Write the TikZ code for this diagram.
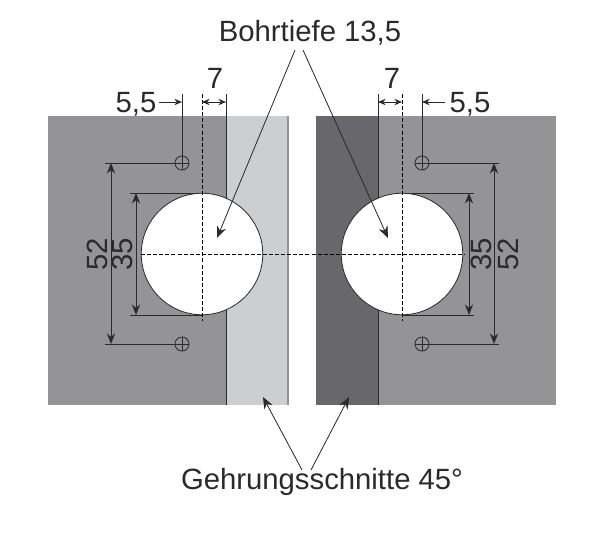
\documentclass[tikz,border=0pt]{standalone}
\usepackage{fontspec}
\setmainfont{Liberation Sans}
\usetikzlibrary{arrows.meta}
\definecolor{panelgray}{HTML}{949497}
\definecolor{panellight}{HTML}{CDCED0}
\definecolor{paneldark}{HTML}{68686C}
\definecolor{inkgray}{HTML}{2A2A2C}
\tikzset{
  dimline/.style={draw=inkgray, line width=0.8pt, {Stealth[length=9pt,width=7pt]}-{Stealth[length=9pt,width=7pt]}},
  leader/.style={draw=inkgray, line width=0.7pt, -{Stealth[length=10pt,width=8pt]}},
  smalldim/.style={draw=inkgray, line width=0.8pt, {Stealth[length=6.5pt,width=5.5pt]}-{Stealth[length=6.5pt,width=5.5pt]}},
  pointer/.style={draw=inkgray, line width=0.8pt, -{Stealth[length=6.5pt,width=5.5pt]}},
  extline/.style={draw=inkgray, line width=0.8pt},
  centerline/.style={draw=black, line width=0.6pt, dash pattern=on 3.4pt off 1.8pt},
  screwhole/.style={circle, draw=inkgray, line width=0.7pt, minimum size=12pt, inner sep=0pt},
  dimlabel/.style={text=inkgray, font=\fontsize{25}{30}\selectfont, inner sep=0pt},
}
\begin{document}
\begin{tikzpicture}[x=0.03cm, y=-0.03cm]
\useasboundingbox (0, 0) rectangle (600, 534);

% panels
\fill[panelgray] (48, 116) rectangle (226, 405);
\fill[panellight] (226, 116) rectangle (288, 405);
\fill[paneldark] (316, 116) rectangle (378, 405);
\fill[panelgray] (378, 116) rectangle (556, 405);
\draw[panelgray, line width=1pt] (288, 116) -- (288, 405);
\draw[extline] (226, 94) -- (226, 405);
\draw[extline] (378, 94) -- (378, 405);

% witness lines of the 35 and 52 measures
\coordinate (ltopA) at (130, 193);
\coordinate (lbotA) at (130, 315);
\coordinate (rtopA) at (474, 193);
\coordinate (rbotA) at (474, 315);
\coordinate (ltopB) at (105, 163);
\coordinate (lbotB) at (105, 344);
\coordinate (rtopB) at (499, 163);
\coordinate (rbotB) at (499, 344);
\draw[extline] (ltopA) -- (202, 193);
\draw[extline] (lbotA) -- (202, 315);
\draw[extline] (rtopA) -- (402, 193);
\draw[extline] (rbotA) -- (402, 315);

% bores
\node[circle, fill=white, draw=inkgray, line width=0.7pt, minimum size=103.7pt, inner sep=0pt] (boreL) at (202, 254) {};
\node[circle, fill=white, draw=inkgray, line width=0.7pt, minimum size=103.7pt, inner sep=0pt] (boreR) at (402, 254) {};

% screw holes
\foreach \name/\x/\y in {holeLT/182/163, holeLB/182/344, holeRT/422/163, holeRB/422/344} {
  \node[screwhole] (\name) at (\x, \y) {};
  \draw[inkgray, line width=0.4pt] (\name.north) -- (\name.south);
  \draw[inkgray, line width=0.4pt] (\name.west) -- (\name.east);
}
\draw[extline] (ltopB) -- (holeLT.west);
\draw[extline] (lbotB) -- (holeLB.west);
\draw[extline] (rtopB) -- (holeRT.east);
\draw[extline] (rbotB) -- (holeRB.east);

% center lines
\draw[centerline] (141, 254) -- (465, 254);
\draw[centerline] (202, 94) -- (202, 321);
\draw[centerline] (402, 94) -- (402, 321);

% 5,5 and 7
\coordinate (widL) at (182, 94);
\coordinate (widR) at (422, 94);
\draw[extline] (widL) -- (holeLT.north);
\draw[extline] (widR) -- (holeRT.north);
\node[dimlabel] (valLfive) at (136, 104) {5,5};
\node[dimlabel] (valRfive) at (470, 104) {5,5};
\coordinate (tipL) at (182, 102);
\coordinate (tipR) at (422, 102);
\draw[pointer] (159, 102) -- (tipL);
\draw[pointer] (445, 102) -- (tipR);
\node[dimlabel] (valLseven) at (215, 78) {7};
\node[dimlabel] (valRseven) at (392, 78) {7};
\draw[smalldim] (202, 102) -- (226, 102);
\draw[smalldim] (378, 102) -- (402, 102);

% 35 and 52
\draw[dimline] (136, 193) -- (136, 315);
\draw[dimline] (111, 163) -- (111, 344);
\draw[dimline] (469, 193) -- (469, 315);
\draw[dimline] (494, 163) -- (494, 344);
\node[dimlabel, rotate=90] (valLnarrow) at (122, 254) {35};
\node[dimlabel, rotate=90] (valLwide) at (97, 254) {52};
\node[dimlabel, rotate=90] (valRnarrow) at (481, 254) {35};
\node[dimlabel, rotate=90] (valRwide) at (508, 254) {52};

% callouts
\node[dimlabel] (depth) at (310, 33) {Bohrtiefe 13,5};
\node[dimlabel] (miter) at (322, 482) {Gehrungsschnitte 45°};
\coordinate (depthL) at (217, 238);
\coordinate (depthR) at (388, 238);
\coordinate (miterL) at (263, 397);
\coordinate (miterR) at (349, 397);
\draw[leader] (295, 50) -- (depthL);
\draw[leader] (303, 50) -- (depthR);
\draw[leader] (302, 470) -- (miterL);
\draw[leader] (311, 470) -- (miterR);

\end{tikzpicture}
\end{document}
